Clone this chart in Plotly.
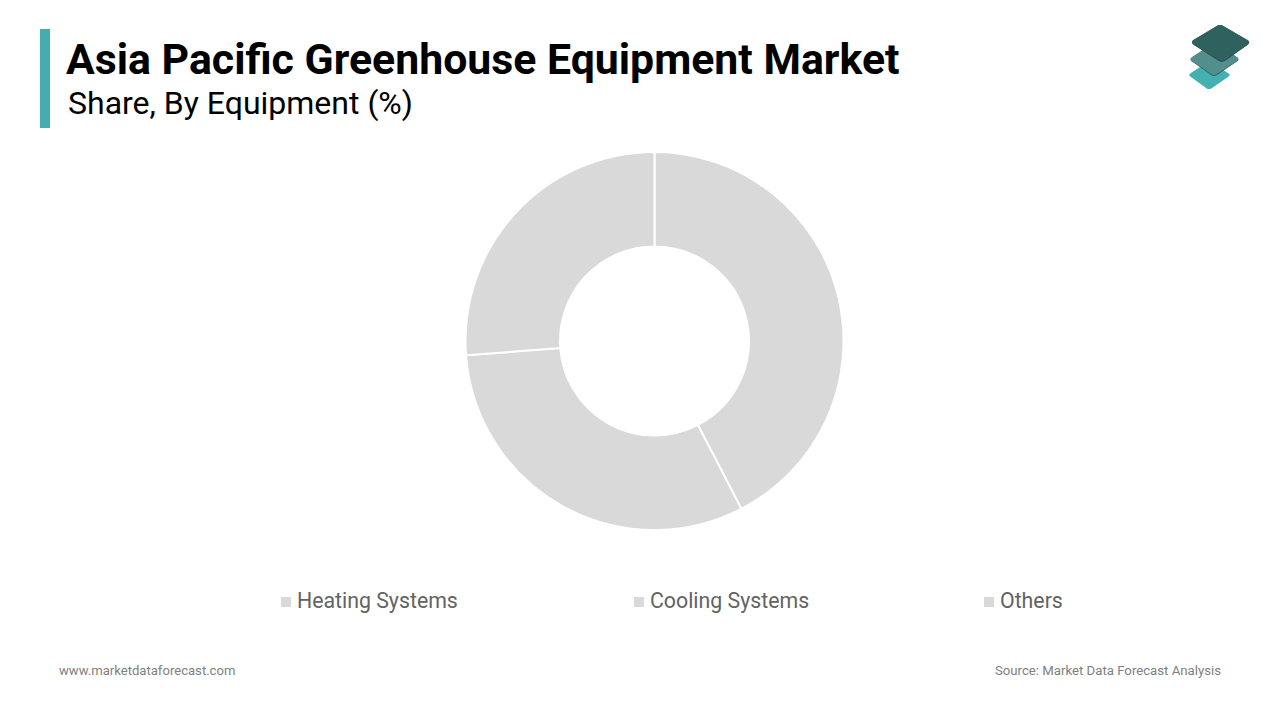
import plotly.graph_objects as go

# 페이지 body 여백 8px 만큼 빼고 그린다
PAGE_MARGIN = 8
W, H = 1280 - PAGE_MARGIN, 720 - PAGE_MARGIN

title = 'Asia Pacific Greenhouse Equipment Market'
subtitle = 'Share, By Equipment (%)'
categories = ['Heating Systems', 'Cooling Systems', 'Others']
shares = [42.4, 31.4, 26.2]
footer_left = 'www.marketdataforecast.com'
footer_right = 'Source: Market Data Forecast Analysis'


def px(x):
    return (x - PAGE_MARGIN) / W


def py(y):
    return 1 - (y - PAGE_MARGIN) / H


def diamond(corners, color, r=0.12):
    # 로고용 마름모, 모서리는 둥글게 (Q 곡선)
    pts = [(px(x), py(y)) for x, y in corners]
    path = ''
    for i, (cx, cy) in enumerate(pts):
        ax, ay = pts[i - 1]
        bx, by = pts[(i + 1) % len(pts)]
        sx, sy = cx + (ax - cx) * r, cy + (ay - cy) * r
        ex, ey = cx + (bx - cx) * r, cy + (by - cy) * r
        path += f'{"L" if i else "M"} {sx} {sy} Q {cx} {cy} {ex} {ey} '
    return dict(type='path', xref='paper', yref='paper', path=path + 'Z',
                fillcolor=color, line=dict(width=0))


def label(text, x, y, size, color, anchor='left', bold=False):
    return dict(text=f'<b>{text}</b>' if bold else text,
                xref='paper', yref='paper', x=px(x), y=py(y),
                xanchor=anchor, yanchor='middle', showarrow=False,
                font=dict(family='Roboto', size=size, color=color))


fig = go.Figure(go.Pie(
    labels=categories,
    values=shares,
    hole=0.5,
    sort=False,
    direction='clockwise',
    rotation=0,
    textinfo='none',
    marker=dict(colors=['#d9d9d9'] * 3, line=dict(color='white', width=2)),
    domain=dict(x=[px(465.5), px(843.5)], y=[py(530), py(152)]),
    showlegend=False,
))

shapes = [
    # 왼쪽 제목 막대
    dict(type='rect', xref='paper', yref='paper', x0=px(40), x1=px(50),
         y0=py(128), y1=py(29), fillcolor='#45adad', line=dict(width=0)),
    # 로고 (아래쪽부터, 어두운 그림자 먼저)
    diamond([(1188, 75), (1209, 61), (1231, 75), (1209, 90)], '#45b0b0'),
    diamond([(1189, 59.5), (1215, 42), (1240, 59.5), (1214, 77)], '#2f625f'),
    diamond([(1189, 59), (1215, 42), (1240, 59), (1214, 76)], '#528e8b'),
    diamond([(1190, 42.5), (1220, 24), (1251, 42.5), (1222, 63)], '#1f4a48'),
    diamond([(1190, 42), (1220, 24), (1251, 42), (1222, 62)], '#2f625f'),
]

annotations = [
    label(title, 63.5, 59, 42.8, '#000000', bold=True),
    label(subtitle, 65.5, 102.5, 32, '#000000'),
    label(footer_left, 57, 670, 13.1, '#808080'),
    label(footer_right, 1223, 670, 13.2, '#808080', anchor='right'),
]

# 범례는 간격이 제각각이라 직접 배치
legend_x = [281, 634, 984]
legend_text_x = [295, 647.5, 998]
for cat, x, tx in zip(categories, legend_x, legend_text_x):
    shapes.append(dict(type='rect', xref='paper', yref='paper',
                       x0=px(x), x1=px(x + 10), y0=py(607), y1=py(597),
                       fillcolor='#d9d9d9', line=dict(width=0)))
    annotations.append(label(cat, tx, 600.5, 21.3, '#636363'))

fig.update_layout(
    width=W,
    height=H,
    margin=dict(l=0, r=0, t=0, b=0),
    paper_bgcolor='white',
    plot_bgcolor='white',
    shapes=shapes,
    annotations=annotations,
)

fig.write_html('out.html')
